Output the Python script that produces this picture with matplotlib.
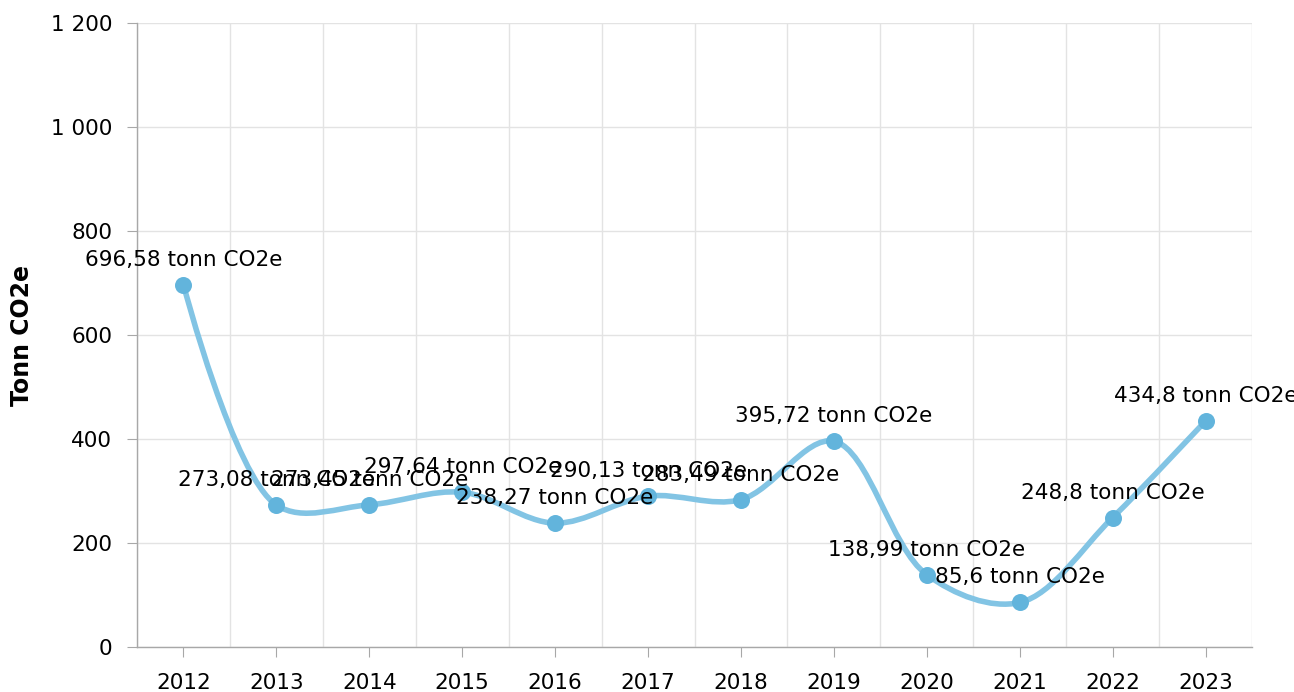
import numpy as np
import matplotlib
matplotlib.use('Agg')
import matplotlib.pyplot as plt
from matplotlib.path import Path
from matplotlib.patches import PathPatch
from matplotlib.ticker import FuncFormatter, MultipleLocator

# data
years = ['2012', '2013', '2014', '2015', '2016', '2017',
         '2018', '2019', '2020', '2021', '2022', '2023']
values = [696.58, 273.08, 273.45, 297.64, 238.27, 290.13,
          283.49, 395.72, 138.99, 85.6, 248.8, 434.8]
unit = 'tonn CO2e'

line_col = '#82c4e4'
mark_col = '#62b4dc'
grid_col = '#e3e3e3'
axis_col = '#a8a8a8'


def catmull_rom_path(xs, ys, sx, sy, alpha=0.5):
    # centripetal catmull-rom, computed in pixel-like units (sx, sy = px per unit)
    P = [np.array([x * sx, y * sy]) for x, y in zip(xs, ys)]
    n = len(P)
    verts = [tuple(P[0])]
    codes = [Path.MOVETO]
    for i in range(n - 1):
        p0 = P[i - 1] if i > 0 else P[i]
        p1, p2 = P[i], P[i + 1]
        p3 = P[i + 2] if i + 2 < n else P[i + 1]
        l01 = np.linalg.norm(p1 - p0)
        l12 = np.linalg.norm(p2 - p1)
        l23 = np.linalg.norm(p3 - p2)
        l01a, l12a, l23a = l01 ** alpha, l12 ** alpha, l23 ** alpha
        l01_2a, l12_2a, l23_2a = l01 ** (2 * alpha), l12 ** (2 * alpha), l23 ** (2 * alpha)
        c1, c2 = p1.copy(), p2.copy()
        if l01a > 1e-9:
            a = 2 * l01_2a + 3 * l01a * l12a + l12_2a
            m = 3 * l01a * (l01a + l12a)
            c1 = (p1 * a - p0 * l12_2a + p2 * l01_2a) / m
        if l23a > 1e-9:
            b = 2 * l23_2a + 3 * l23a * l12a + l12_2a
            m = 3 * l23a * (l23a + l12a)
            c2 = (p2 * b + p1 * l23_2a - p3 * l12_2a) / m
        verts += [tuple(c1), tuple(c2), tuple(p2)]
        codes += [Path.CURVE4] * 3
    verts = [(vx / sx, vy / sy) for vx, vy in verts]
    return Path(verts, codes)


plt.rcParams['font.family'] = ['DejaVu Sans']
W, H = 1294, 692
fig = plt.figure(figsize=(W / 100, H / 100), dpi=100)
left, right, top, bottom = 137, 1252, 23, 647
ax = fig.add_axes([left / W, 1 - bottom / H, (right - left) / W, (bottom - top) / H])

x = np.arange(len(years))
ax.set_xlim(-0.5, len(years) - 0.5)
ax.set_ylim(0, 1200)

sx = (right - left) / len(years)
sy = (bottom - top) / 1200
ax.add_patch(PathPatch(catmull_rom_path(list(x), values, sx, sy), fill=False,
                       edgecolor=line_col, lw=4.0, capstyle='round',
                       joinstyle='round', zorder=3))
ax.scatter(x, values, s=150, color=mark_col, zorder=4, linewidths=0)

for xi, v in zip(x, values):
    txt = ('%g' % v).replace('.', ',') + ' ' + unit
    ax.annotate(txt, (xi, v), xytext=(0, 18), textcoords='offset points',
                ha='center', va='center', fontsize=15.5, color='#000000',
                zorder=5, annotation_clip=False)

ax.set_xticks(x)
ax.set_xticklabels(years)
ax.set_xticks(np.arange(-0.5, len(years), 1), minor=True)
ax.yaxis.set_major_locator(MultipleLocator(200))
ax.yaxis.set_major_formatter(FuncFormatter(
    lambda v, p: '{:,.0f}'.format(v).replace(',', ' ')))

ax.grid(True, axis='y', which='major', color=grid_col, lw=1)
ax.grid(True, axis='x', which='minor', color=grid_col, lw=1)
ax.set_axisbelow(True)

for s in ['top', 'right']:
    ax.spines[s].set_visible(False)
for s in ['left', 'bottom']:
    ax.spines[s].set_color(axis_col)
    ax.spines[s].set_linewidth(1)

ax.tick_params(axis='x', which='major', length=7, color=axis_col,
               labelsize=15.5, pad=12, labelcolor='#000000')
ax.tick_params(axis='x', which='minor', length=0)
ax.tick_params(axis='y', length=7.2, color=axis_col, labelsize=15.5,
               pad=10.5, labelcolor='#000000')

ax.set_ylabel('Tonn CO2e', fontsize=17, fontweight='bold', labelpad=12)

fig.savefig('out.png', dpi=100)
